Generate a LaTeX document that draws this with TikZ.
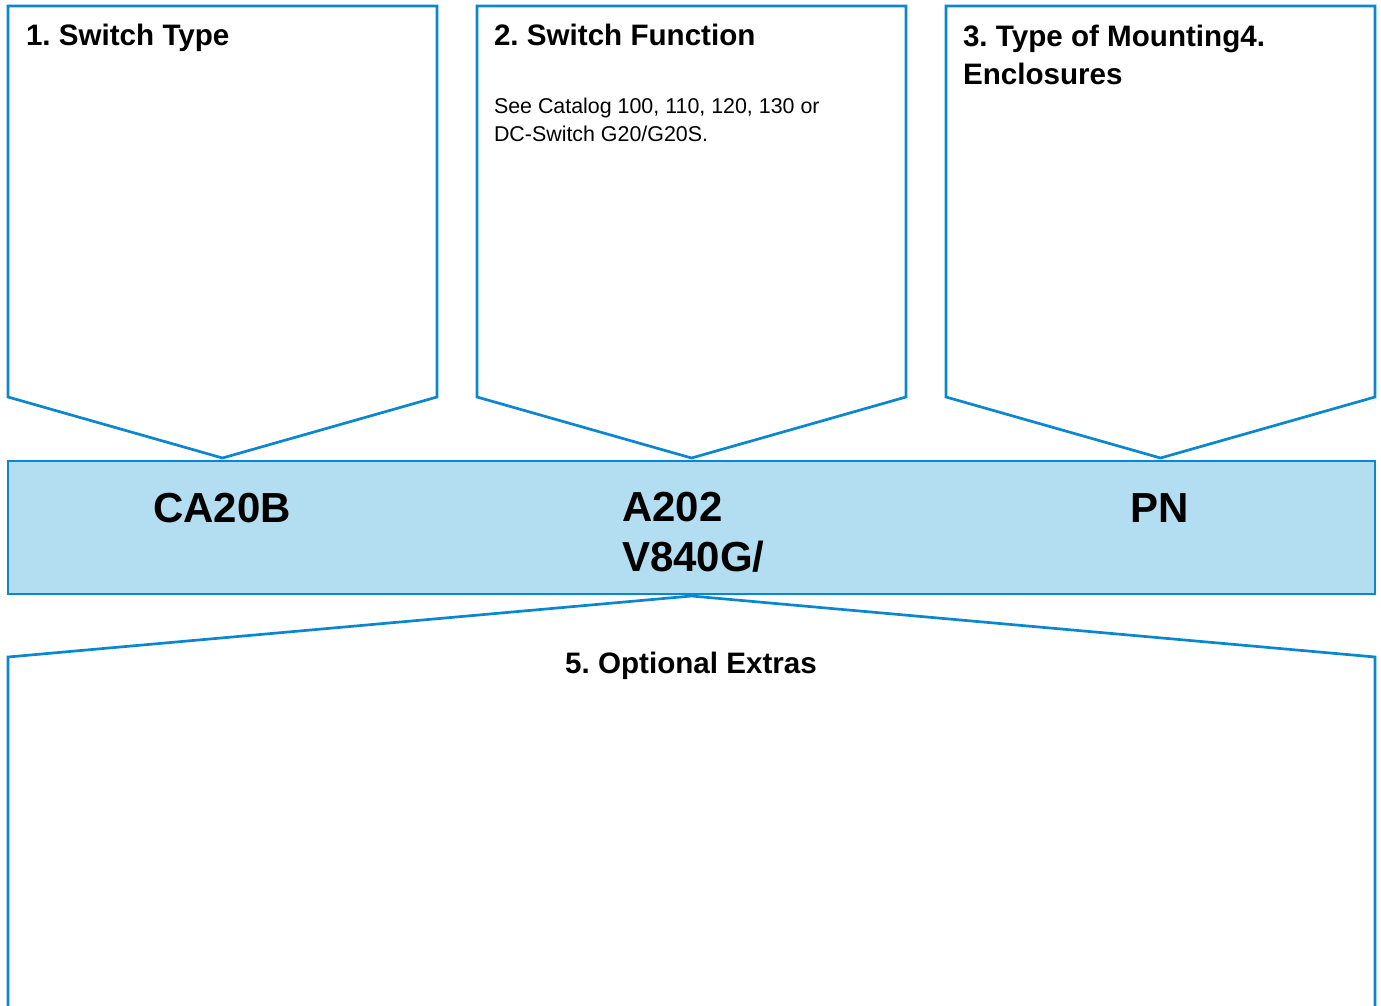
\documentclass[tikz,border=0pt]{standalone}
\usepackage{fontspec}
\setmainfont{Liberation Sans}
\usepackage{tikz}
\definecolor{lineblue}{HTML}{0B87CF}
\definecolor{barblue}{HTML}{B3DDF0}
\frenchspacing

\begin{document}
\begin{tikzpicture}[x=1pt,y=-1pt]
    \tikzstyle{every node} = [inner sep=0pt, outer sep=0pt]
    \tikzstyle{outline} = [draw=lineblue, line width=2.7pt, line join=miter]
    \tikzstyle{heading} = [font=\fontsize{29.6}{38}\selectfont\bfseries, align=left]
    \tikzstyle{remark} = [font=\fontsize{21.4}{28}\selectfont, align=left]
    \tikzstyle{code} = [font=\fontsize{42}{50}\selectfont\bfseries, align=left]
    \useasboundingbox (0,0) rectangle (1381,1006);
    % callout boxes
    \foreach \x/\tip in {8/typeTip, 477/functionTip, 946/mountTip}{
      \coordinate (\tip) at (\x+214.5,458);
      \draw[outline] (\x,6) -- ++(429,0) -- ++(0,391) -- (\tip) -- (\x,397) -- cycle;
    }
    % code bar
    \node[outline, fill=barblue, anchor=north west, minimum width=1367pt, minimum height=133pt] (codeBar) at (8,461) {};
    % optional extras box
    \coordinate (extrasTip) at (691.5,596);
    \draw[outline] (8,1012) -- (8,657) -- (extrasTip) -- (1375,657) -- (1375,1012);
    % place nodes
    \node[heading, anchor=base west] (typeTitle) at (26,46) {1. Switch Type};
    \node[heading, anchor=base west] (functionTitle) at (494,46) {2. Switch Function};
    \node[remark, anchor=north west] (functionNote) at (494,97.5) {See Catalog 100, 110, 120, 130 or\\DC-Switch G20/G20S.};
    \node[heading, anchor=north west] (mountTitle) at (963,25) {3. Type of Mounting4.\\Enclosures};
    \node[code, anchor=base west] (typeCode) at (153,522) {CA20B};
    \node[code, anchor=north west] (functionCode) at (622,492) {A202\\V840G/};
    \node[code, anchor=base west] (mountCode) at (1130,522) {PN};
    \node[heading, anchor=base] (extrasTitle) at (691,673) {5. Optional Extras};
\end{tikzpicture}
\end{document}
